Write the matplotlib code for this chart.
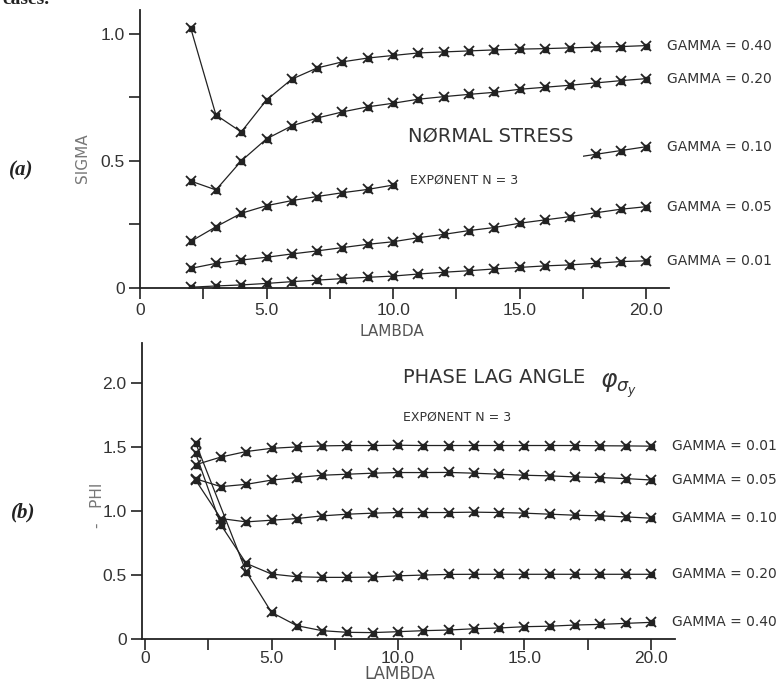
import numpy as np
import matplotlib.pyplot as plt
from matplotlib.patches import Rectangle

# Normal stress and phase lag versus wavelength, exponent n = 3.

lam = list(range(2, 21))
gammas = ["0.40", "0.20", "0.10", "0.05", "0.01"]

# (a) normal stress SIGMA, one list per GAMMA
sigma_040 = [1.024, 0.681, 0.614, 0.740, 0.822, 0.866, 0.890, 0.905, 0.915, 0.925,
             0.929, 0.933, 0.937, 0.940, 0.942, 0.945, 0.948, 0.950, 0.954]
sigma_020 = [0.421, 0.386, 0.500, 0.587, 0.638, 0.669, 0.693, 0.713, 0.727, 0.743,
             0.753, 0.762, 0.770, 0.782, 0.790, 0.798, 0.807, 0.816, 0.824]
sigma_010 = [0.183, 0.241, 0.294, 0.324, 0.344, 0.360, 0.375, 0.388, 0.405, 0.420,
             0.435, 0.450, 0.465, 0.480, 0.495, 0.511, 0.526, 0.541, 0.556]
sigma_005 = [0.077, 0.097, 0.110, 0.121, 0.134, 0.146, 0.159, 0.172, 0.182, 0.198,
             0.211, 0.226, 0.238, 0.255, 0.268, 0.281, 0.296, 0.310, 0.320]
sigma_001 = [0.003, 0.008, 0.012, 0.018, 0.025, 0.031, 0.037, 0.042, 0.047, 0.055,
             0.062, 0.068, 0.075, 0.081, 0.087, 0.091, 0.097, 0.104, 0.107]

# (b) phase lag angle -PHI
lam_phi_040 = [2] + list(range(4, 21))
phi_040 = [1.53, 0.525, 0.208, 0.104, 0.065, 0.052, 0.050, 0.057, 0.065, 0.070,
           0.080, 0.086, 0.096, 0.100, 0.109, 0.114, 0.122, 0.130]
phi_020 = [1.45, 0.89, 0.59, 0.507, 0.486, 0.481, 0.481, 0.483, 0.493, 0.499,
           0.504, 0.505, 0.505, 0.505, 0.505, 0.505, 0.505, 0.505, 0.505]
phi_010 = [1.24, 0.94, 0.914, 0.927, 0.940, 0.961, 0.974, 0.982, 0.987, 0.987,
           0.987, 0.990, 0.987, 0.982, 0.974, 0.966, 0.961, 0.953, 0.943]
phi_005 = [1.25, 1.189, 1.207, 1.240, 1.260, 1.278, 1.286, 1.294, 1.299, 1.299,
           1.300, 1.294, 1.286, 1.278, 1.273, 1.265, 1.260, 1.252, 1.241]
phi_001 = [1.36, 1.42, 1.463, 1.488, 1.499, 1.507, 1.510, 1.510, 1.512, 1.510,
           1.510, 1.510, 1.510, 1.510, 1.510, 1.510, 1.508, 1.507, 1.505]

x_ticks = [0, 5, 10, 15, 20]
x_ticklabels = ["0", "5.0", "10.0", "15.0", "20.0"]

ink = "#222222"
W, H = 784, 686


def fpos(x, y):
    # figure pixel -> figure fraction
    return x / W, 1 - y / H


def markers(ax, x, y):
    ax.plot(x, y, ls="none", marker="s", ms=3.6, color=ink, zorder=3)
    ax.plot(x, y, ls="none", marker="x", ms=6.5, mew=1.3, color=ink, zorder=3)


def curve(ax, x, y):
    ax.plot(x, y, color=ink, lw=0.9, zorder=2)
    markers(ax, x, y)


def gamma_label(ax, x, y, g):
    ax.annotate("GAMMA = " + g, xy=(x, y), xytext=(21, 0),
                textcoords="offset pixels", va="center", ha="left",
                fontsize=10, color="#333333", family="DejaVu Sans")


def style_axes(ax, xpad):
    for side in ("top", "right"):
        ax.spines[side].set_visible(False)
    for side in ("left", "bottom"):
        ax.spines[side].set_linewidth(1.3)
        ax.spines[side].set_color(ink)
    ax.set_xticks(x_ticks, x_ticklabels)
    ax.set_xticks([2.5, 7.5, 12.5, 17.5], minor=True)
    ax.tick_params(which="both", direction="out", length=8, width=1.2,
                   color=ink, labelsize=12.5, labelcolor="#333333", pad=3)
    ax.tick_params(axis="x", which="major", pad=xpad)
    for lab in ax.get_xticklabels() + ax.get_yticklabels():
        lab.set_family("Liberation Sans")


fig = plt.figure(figsize=(W / 100, H / 100), dpi=100)

# ---- (a) normal stress ----
ax1 = fig.add_axes([140 / W, 1 - 288 / H, 529 / W, 278 / H])
ax1.set_xlim(0, 20.9)
ax1.set_ylim(0, 1.094)
ax1.set_yticks([0, 0.5, 1.0], ["0", "0.5", "1.0"])
ax1.set_yticks([0.25, 0.75], minor=True)
style_axes(ax1, 3)

for ys in (sigma_040, sigma_020, sigma_005, sigma_001):
    curve(ax1, lam, ys)
# GAMMA = 0.10 is broken where the inner text sits
curve(ax1, lam[:9], sigma_010[:9])
tail, = ax1.plot(lam[15:], sigma_010[15:], color=ink, lw=0.9, zorder=2)
tail.set_clip_path(Rectangle((17.5, 0), 10, 2, transform=ax1.transData))
markers(ax1, lam[16:], sigma_010[16:])

for ys, g in zip((sigma_040, sigma_020, sigma_010, sigma_005, sigma_001), gammas):
    gamma_label(ax1, lam[-1], ys[-1], g)

ax1.text(10.59, 0.598, "NØRMAL STRESS", fontsize=14, color="#333333",
         va="center", ha="left")
ax1.text(10.67, 0.425, "EXPØNENT N = 3", fontsize=9, color="#333333",
         va="center", ha="left")

fig.text(*fpos(83, 158), "SIGMA", rotation=90, fontsize=11, color="#777777",
         va="center", ha="center")
fig.text(*fpos(392, 332), "LAMBDA", fontsize=11, color="#555555",
         va="center", ha="center")
fig.text(*fpos(21, 170), "(a)", fontsize=15, family="Liberation Serif",
         style="italic", weight="bold", color="#222222", va="center", ha="center")

# ---- (b) phase lag angle ----
ax2 = fig.add_axes([142 / W, 1 - 639 / H, 533 / W, 296 / H])
ax2.set_xlim(-0.12, 20.95)
ax2.set_ylim(0, 2.31)
ax2.set_yticks([0, 0.5, 1.0, 1.5, 2.0], ["0", "0.5", "1.0", "1.5", "2.0"])
style_axes(ax2, 0.5)

for ys in (phi_020, phi_010, phi_005, phi_001):
    curve(ax2, lam, ys)
curve(ax2, lam_phi_040, phi_040)

for xs, ys, g in zip((lam_phi_040, lam, lam, lam, lam),
                     (phi_040, phi_020, phi_010, phi_005, phi_001), gammas):
    gamma_label(ax2, xs[-1], ys[-1], g)

ax2.text(10.2, 2.04, "PHASE LAG ANGLE", fontsize=14,
         color="#333333", va="center", ha="left")
ax2.text(18.0, 1.98, r"$\varphi_{\sigma_y}$", fontsize=18,
         color="#333333", va="center", ha="left")
ax2.text(10.2, 1.73, "EXPØNENT N = 3", fontsize=9, color="#333333",
         va="center", ha="left")

fig.text(*fpos(97, 505), "-   PHI", rotation=90, fontsize=11, color="#777777",
         va="center", ha="center")
fig.text(*fpos(400, 674), "LAMBDA", fontsize=12, color="#555555",
         va="center", ha="center")
fig.text(*fpos(23, 512), "(b)", fontsize=15, family="Liberation Serif",
         style="italic", weight="bold", color="#222222", va="center", ha="center")

# caption line cut off at the top edge
fig.text(*fpos(2, -1), "cases.", fontsize=14, family="Liberation Serif",
         weight="bold", color="#222222", va="center", ha="left")

fig.savefig("out.png", dpi=100)
